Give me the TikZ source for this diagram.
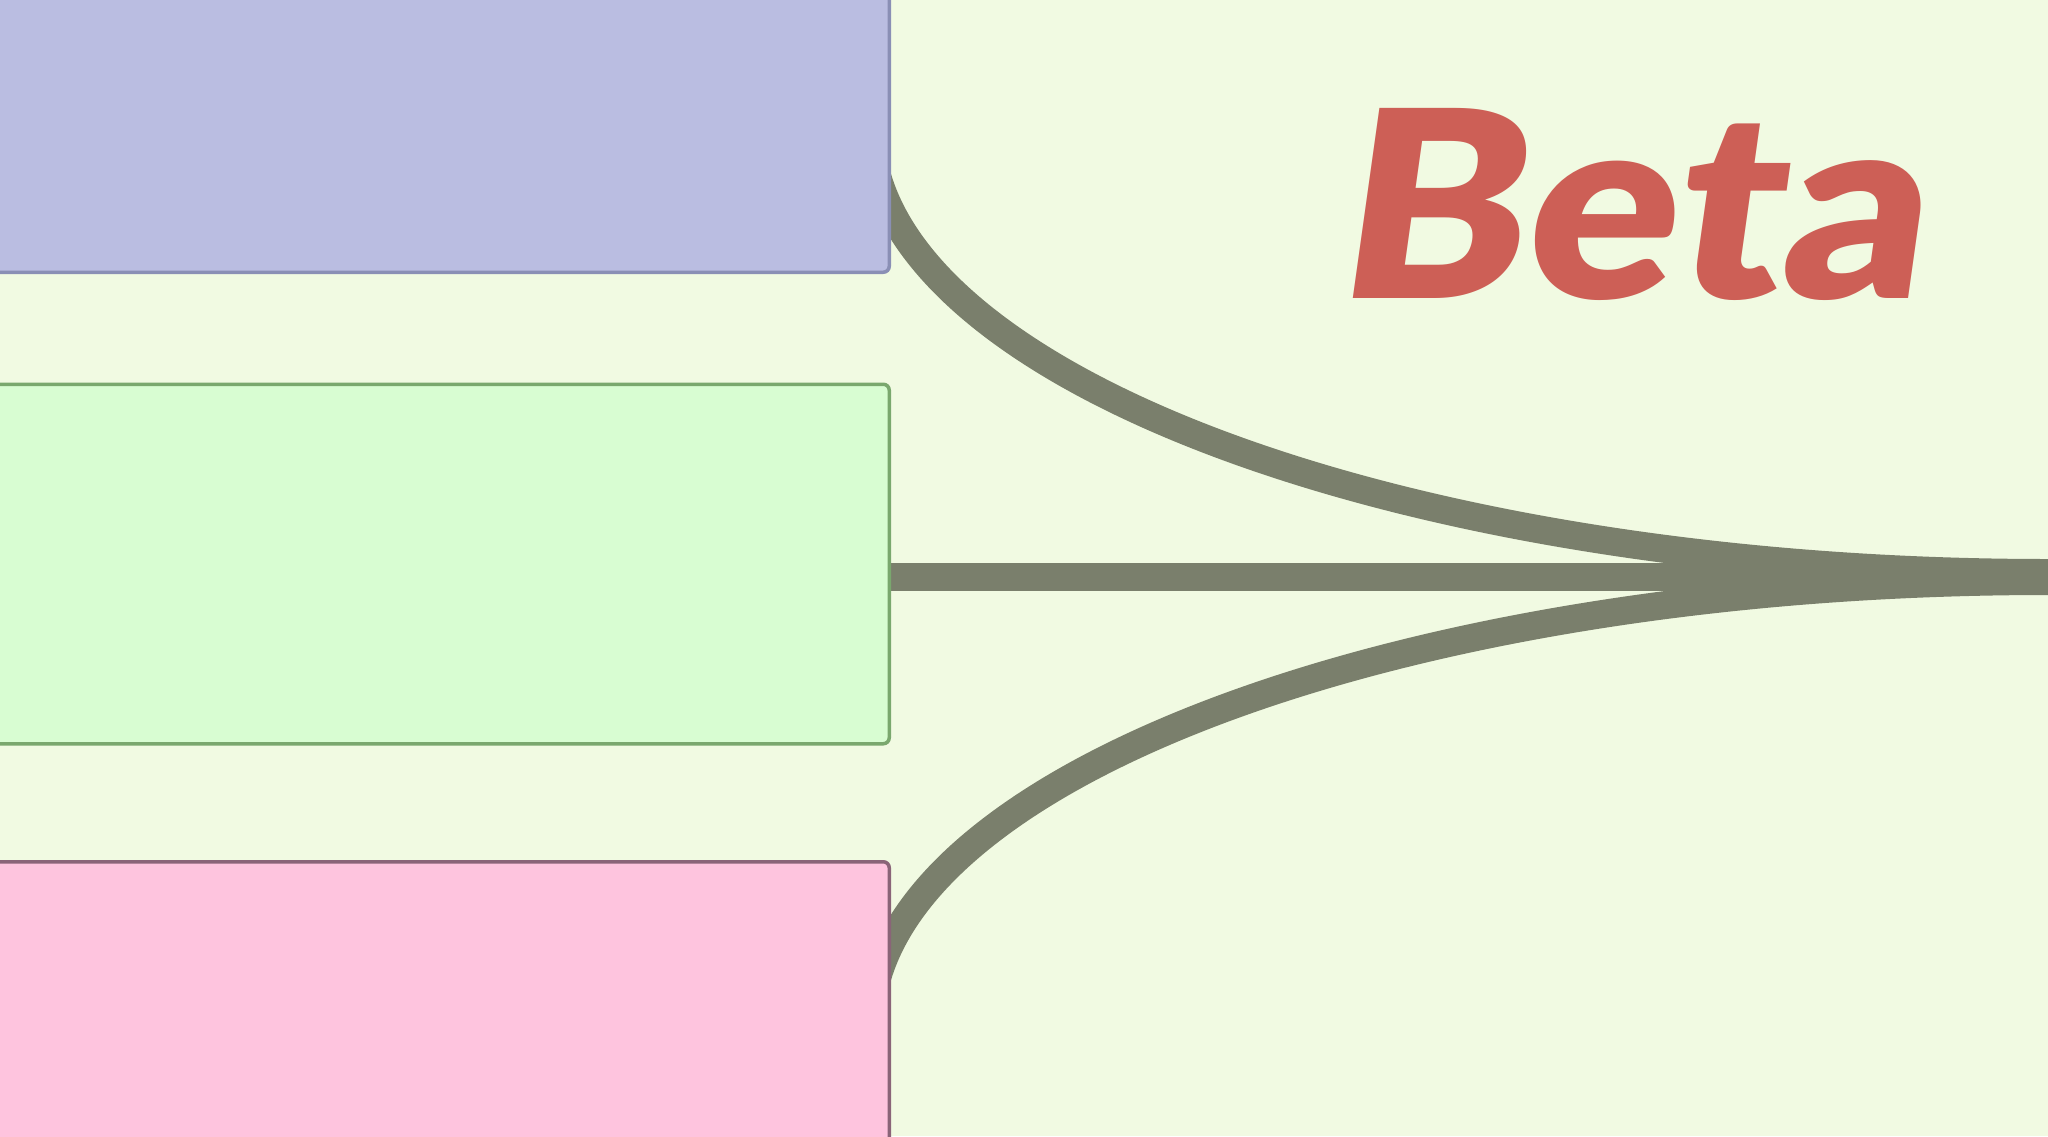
\documentclass[tikz,border=0pt]{standalone}
\usepackage{fontspec}
\newfontfamily\betafont{Lato Black}[FakeSlant=0.14, FakeStretch=1.074]
\definecolor{bgc}{RGB}{241,250,226}
\definecolor{bluefill}{RGB}{186,189,225}
\definecolor{blueline}{RGB}{138,143,181}
\definecolor{greenfill}{RGB}{216,253,210}
\definecolor{greenline}{RGB}{122,168,110}
\definecolor{pinkfill}{RGB}{254,196,222}
\definecolor{pinkline}{RGB}{138,100,120}
\definecolor{flowc}{RGB}{122,127,108}
\definecolor{betac}{RGB}{205,95,86}
\tikzset{
  boxnode/.style={rectangle, rounded corners=6pt, line width=3.5pt, inner sep=0pt, minimum width=911pt},
  flowline/.style={draw=flowc, line width=28pt},
}
\begin{document}
\begin{tikzpicture}[x=1pt,y=-1pt]
\useasboundingbox (0,0) rectangle (2048,1136);
\clip (0,0) rectangle (2048,1136);
\fill[bgc] (0,0) rectangle (2048,1136);
% flow coordinates
\coordinate (tS) at (870,127);
\coordinate (mS) at (880,577);
\coordinate (bS) at (870,1027);
\coordinate (Jt) at (2048,573);
\coordinate (Jm) at (2048,577);
\coordinate (Jb) at (2048,581);
% flows
\draw[flowline] (tS) .. controls +(0,246.3) and +(-650.6,0) .. (Jt);
\draw[flowline] (bS) .. controls +(0,-246.3) and +(-650.6,0) .. (Jb);
\draw[flowline] (mS) -- (Jm);
% boxes
\node[boxnode, fill=bluefill, draw=blueline, minimum height=374pt, anchor=south east] (blue) at (891,274) {};
\node[boxnode, fill=greenfill, draw=greenline, minimum height=359.5pt, anchor=north east] (green) at (891,382.5) {};
\node[boxnode, fill=pinkfill, draw=pinkline, minimum height=400pt, anchor=north east] (pink) at (891,860) {};
% label
\node[anchor=base west, inner sep=0pt, text=betac, font=\betafont\fontsize{261}{261}\selectfont] (beta) at (1333,298) {Beta};
\end{tikzpicture}
\end{document}
